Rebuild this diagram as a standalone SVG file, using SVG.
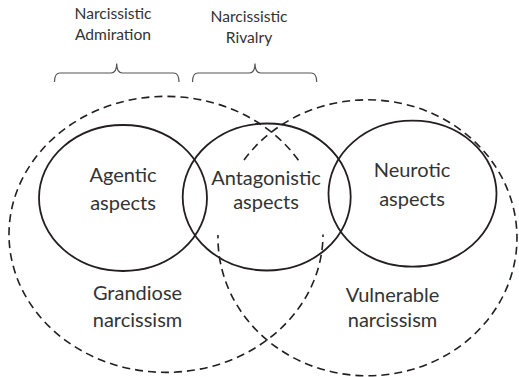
<svg xmlns="http://www.w3.org/2000/svg" width="519" height="377" viewBox="0 0 519 377">
  <style>
    .solid { fill: none; stroke: #231f20; stroke-width: 1.8; }
    .dashed { fill: none; stroke: #231f20; stroke-width: 1.6; stroke-dasharray: 8 5; }
    .brace { fill: none; stroke: #555; stroke-width: 1.2; }
    .lbl { font-family: Lato, "Open Sans", "Liberation Sans", sans-serif; font-size: 20px; fill: #333; text-anchor: middle; }
    .top { font-family: Lato, "Open Sans", "Liberation Sans", sans-serif; font-size: 15.6px; fill: #333; text-anchor: middle; }
  </style>
  <rect width="519" height="377" fill="#fff"/>

  <!-- outer dashed regions, open where they pass behind the middle labels -->
  <g id="grandiose">
    <path class="dashed" d="M298.4,160.2 A157,138 0 1 0 323,234.5"/>
    <text class="lbl" x="137.5" y="300">Grandiose</text>
    <text class="lbl" x="137.5" y="326.5">narcissism</text>
  </g>
  <g id="vulnerable">
    <path class="dashed" d="M244,160 A149.5,138 0 1 1 218,235"/>
    <text class="lbl" x="392.5" y="301.5">Vulnerable</text>
    <text class="lbl" x="392.5" y="326.5">narcissism</text>
  </g>

  <!-- inner aspects -->
  <g id="agentic">
    <ellipse class="solid" cx="123" cy="198" rx="84" ry="73"/>
    <text class="lbl" x="123" y="181.5">Agentic</text>
    <text class="lbl" x="123" y="209.5">aspects</text>
  </g>
  <g id="antagonistic">
    <ellipse class="solid" cx="266.7" cy="197" rx="84" ry="73.5"/>
    <text class="lbl" x="266" y="185">Antagonistic</text>
    <text class="lbl" x="266" y="209">aspects</text>
  </g>
  <g id="neurotic">
    <ellipse class="solid" cx="412.5" cy="193.7" rx="84" ry="73"/>
    <text class="lbl" x="412" y="177.3">Neurotic</text>
    <text class="lbl" x="412" y="206">aspects</text>
  </g>

  <!-- headings with braces -->
  <g id="admiration">
    <text class="top" x="113" y="19">Narcissistic</text>
    <text class="top" x="113" y="40">Admiration</text>
  </g>
  <g id="rivalry">
    <text class="top" x="249" y="22">Narcissistic</text>
    <text class="top" x="249" y="42.5">Rivalry</text>
  </g>
  <g id="connectors">
    <path class="brace" d="M54.5,82 Q54.5,73 60,73 L111,73 Q116.7,73 116.7,63.5 Q116.7,73 122.4,73 L173.5,73 Q179,73 179,82"/>
    <path class="brace" d="M192.5,82 Q192.5,73 198,73 L249.3,73 Q255,73 255,63.5 Q255,73 260.7,73 L311,73 Q316.7,73 316.7,82"/>
  </g>
</svg>
